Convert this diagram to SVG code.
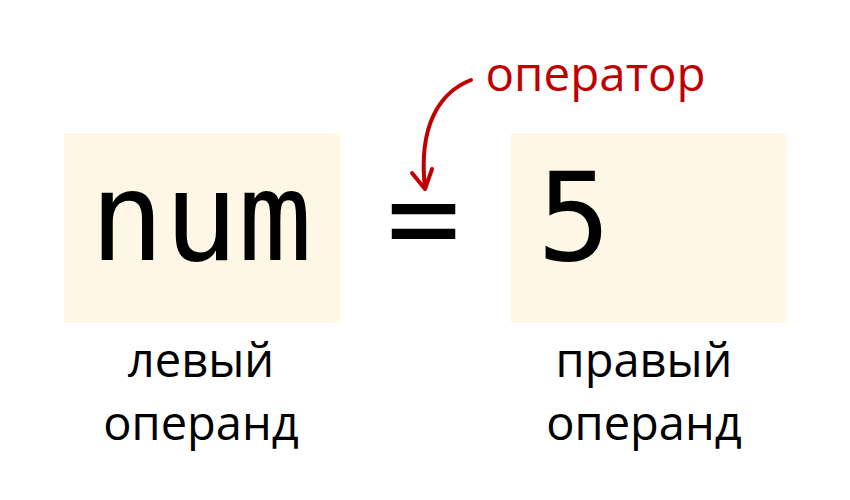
<svg xmlns="http://www.w3.org/2000/svg" width="850" height="500" viewBox="0 0 850 500">
<style>
.box{fill:#fef7e5}
.code{font-family:"DejaVu Sans Mono",monospace;font-size:123px;fill:#000}
.lbl{font-family:"Open Sans",sans-serif;font-size:47px;fill:#000;text-anchor:middle}
.op{font-family:"Open Sans",sans-serif;font-size:47.5px;fill:#c00000}
.arr{fill:none;stroke:#c00000;stroke-width:4;stroke-linecap:round;stroke-linejoin:round}
</style>
<rect width="850" height="500" fill="#fff"/>
<g id="left">
<rect class="box" x="64" y="133" width="276" height="190"/>
<text class="code" x="201" y="260" text-anchor="middle">num</text>
<text class="lbl" x="201" y="377">левый</text>
<text class="lbl" x="201" y="440">операнд</text>
</g>
<g id="equals">
<text class="code" x="423.5" y="260" text-anchor="middle">=</text>
</g>
<g id="right">
<rect class="box" x="511" y="133" width="276" height="190"/>
<text class="code" x="537" y="260">5</text>
<text class="lbl" x="644" y="377">правый</text>
<text class="lbl" x="644" y="440">операнд</text>
</g>
<g id="operator">
<text class="op" x="485.5" y="91">оператор</text>
</g>
<g id="connectors">
<path class="arr" d="M471,80 C440,92 418,125 425,188"/>
<path class="arr" d="M412,173 L425,189 L432,169"/>
</g>
</svg>
